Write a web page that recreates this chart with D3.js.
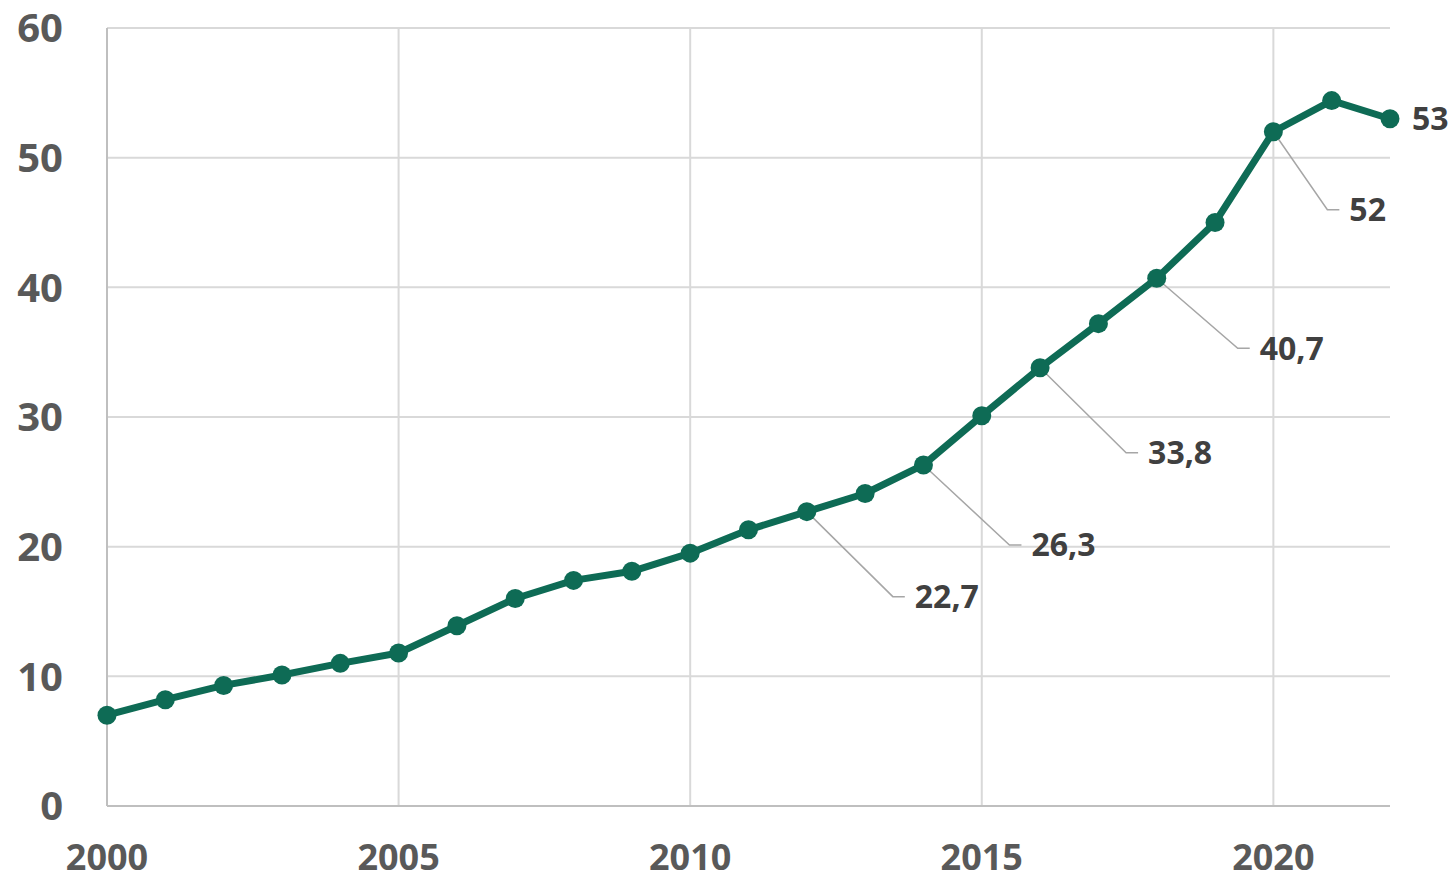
<!DOCTYPE html>
<html><head><meta charset="utf-8">
<script src="https://cdn.jsdelivr.net/npm/d3@7"></script>
<style>body{margin:0;background:#fff}svg{display:block}</style>
</head><body>
<svg id="c" width="1455" height="880"></svg>
<script>
const years = [2000,2001,2002,2003,2004,2005,2006,2007,2008,2009,2010,2011,2012,2013,2014,2015,2016,2017,2018,2019,2020,2021,2022];
const values = [7.0,8.2,9.3,10.1,11.0,11.8,13.9,16.0,17.4,18.1,19.5,21.3,22.7,24.1,26.3,30.1,33.8,37.2,40.7,45.0,52,54.4,53];
const labelYears = [2012,2014,2016,2018,2020];
const labelTexts = ["22,7","26,3","33,8","40,7","52"];
const endLabel = "53";
const yTicks = [0,10,20,30,40,50,60];
const xTicks = [2000,2005,2010,2015,2020];
// leader-line offsets (layout only)
const leaderOffsets = [[86,85],[86,80],[86,85],[81,70],[54,78]];

const svg = d3.select("#c");
const x = d3.scaleLinear().domain([2000,2022]).range([107,1390]);
const y = d3.scaleLinear().domain([0,60]).range([806,28]);
const font = "'Open Sans', Lato, sans-serif";

svg.append("g").selectAll("line").data(yTicks.filter(d=>d>0)).join("line")
  .attr("x1",x(2000)).attr("x2",x(2022)).attr("y1",d=>y(d)).attr("y2",d=>y(d))
  .attr("stroke","#d9d9d9").attr("stroke-width",2);
svg.append("g").selectAll("line").data(xTicks.filter(d=>d>2000)).join("line")
  .attr("x1",d=>x(d)).attr("x2",d=>x(d)).attr("y1",y(0)).attr("y2",y(60))
  .attr("stroke","#d9d9d9").attr("stroke-width",2);
svg.append("line").attr("x1",x(2000)).attr("x2",x(2000)).attr("y1",y(0)).attr("y2",y(60)).attr("stroke","#bfbfbf").attr("stroke-width",2);
svg.append("line").attr("x1",x(2000)).attr("x2",x(2022)).attr("y1",y(0)).attr("y2",y(0)).attr("stroke","#bfbfbf").attr("stroke-width",2);

svg.append("g").selectAll("text").data(yTicks).join("text")
  .attr("x",63).attr("y",d=>y(d)).attr("dy","0.36em").attr("text-anchor","end")
  .attr("font-family",font).attr("font-weight",700).attr("font-size",40).attr("fill","#595959")
  .text(d=>d);
svg.append("g").selectAll("text").data(xTicks).join("text")
  .attr("x",d=>x(d)).attr("y",870).attr("text-anchor","middle")
  .attr("font-family",font).attr("font-weight",700).attr("font-size",36).attr("fill","#595959")
  .text(d=>d);

const pts = years.map((yr,i)=>({yr, v: values[i]}));
const lab = labelYears.map((yr,i)=>{
  const v = values[years.indexOf(yr)];
  return {yr, v, t: labelTexts[i], dx: leaderOffsets[i][0], dy: leaderOffsets[i][1]};
});
svg.append("g").selectAll("path").data(lab).join("path")
  .attr("d",d=>{const px=x(d.yr),py=y(d.v);return `M${px},${py}L${px+d.dx},${py+d.dy}L${px+d.dx+12},${py+d.dy}`;})
  .attr("fill","none").attr("stroke","#a6a6a6").attr("stroke-width",1.5);

svg.append("path").datum(pts)
  .attr("d",d3.line().x(d=>x(d.yr)).y(d=>y(d.v)))
  .attr("fill","none").attr("stroke","#0e6b55").attr("stroke-width",7).attr("stroke-linejoin","round");
svg.append("g").selectAll("circle").data(pts).join("circle")
  .attr("cx",d=>x(d.yr)).attr("cy",d=>y(d.v)).attr("r",9.5).attr("fill","#0e6b55");

svg.append("g").selectAll("text").data(lab).join("text")
  .attr("x",d=>x(d.yr)+d.dx+22).attr("y",d=>y(d.v)+d.dy).attr("dy","0.36em")
  .attr("font-family",font).attr("font-weight",700).attr("font-size",32).attr("fill","#404040")
  .text(d=>d.t);
svg.append("text").attr("x",x(2022)+22).attr("y",y(values[values.length-1])).attr("dy","0.36em")
  .attr("font-family",font).attr("font-weight",700).attr("font-size",32).attr("fill","#404040")
  .text(endLabel);
</script>
</body></html>
